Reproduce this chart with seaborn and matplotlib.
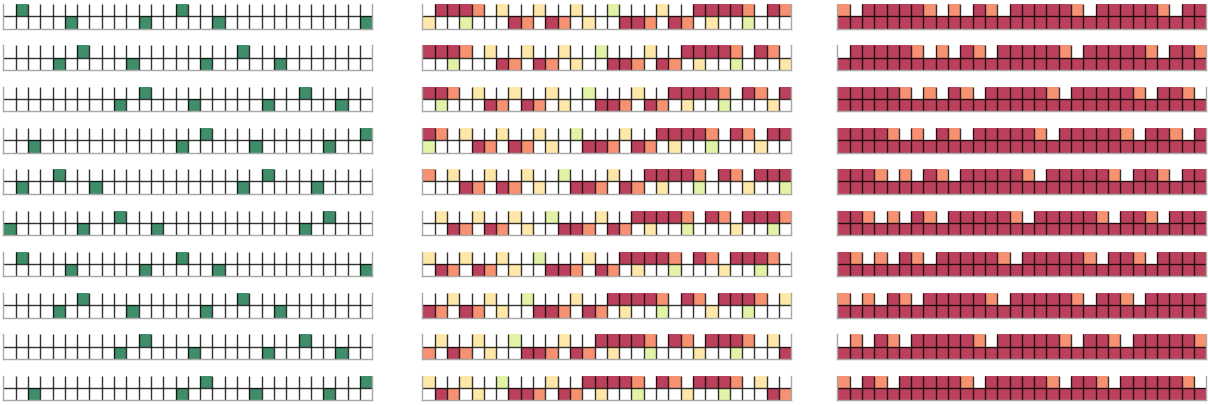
import numpy as np
import matplotlib
matplotlib.use("Agg")
import matplotlib.pyplot as plt
import seaborn as sns

# cell codes -> value on the RdYlGn scale ('.' = empty cell)
code_values = {'.': np.nan, 'R': 0.0, 'O': 0.2, 'Y': 0.4, 'L': 0.6, 'G': 1.0}

# left column: green cells per panel (column indices)
left_top_cols = [[1, 14], [6, 19], [11, 24], [16, 29], [4, 21],
                 [9, 26], [1, 14], [6, 19], [11, 24], [16, 29]]
left_bot_cols = [[5, 11, 17, 29], [4, 10, 16, 22], [9, 15, 21, 27], [2, 14, 20, 26], [1, 7, 19, 25],
                 [0, 6, 12, 24], [5, 11, 17, 29], [4, 10, 16, 22], [9, 15, 21, 27], [2, 14, 20, 26]]

# middle and right columns: long sequences, each panel shows a 30-cell window
mid_top = ".RRRO.Y..Y..Y..L...Y..RRRRO.RO.RRRO.Y.."
mid_bot = "Y..L...RO.RO.Y..RRO.RO.Y..L...Y..L...RO"
right_top = "O.RRRRRO.O.RO.RRRRRO.RRRRRO.RRO.RRRRRO."
right_bot = "RRRRRRRRRRRRRRRRRRRRRRRRRRRRRRRRRRRRRRR"
window_start = [0, 1, 2, 3, 4, 5, 6, 7, 8, 9]

n_cols = 30
n_panels = 10


def decode(s):
    return [code_values[c] for c in s]


def left_grid(i):
    g = np.full((2, n_cols), np.nan)
    g[0, left_top_cols[i]] = code_values['G']
    g[1, left_bot_cols[i]] = code_values['G']
    return g


def window_grid(top, bot, i):
    s = window_start[i]
    return np.array([decode(top[s:s + n_cols]), decode(bot[s:s + n_cols])])


def draw_panel(ax, grid):
    sns.heatmap(grid, ax=ax, cmap='RdYlGn', vmin=0, vmax=1, alpha=0.75,
                linewidths=0, cbar=False, xticklabels=False, yticklabels=False)
    # dark cell separators: all verticals plus the line between the two rows
    ax.vlines(np.arange(1, n_cols), 0, 2, colors='black', lw=1.0, alpha=0.8)
    ax.hlines(1, 0, n_cols, colors='black', lw=1.0, alpha=0.8)
    # light outline on left, right and bottom, none on top
    for side in ['left', 'right', 'bottom']:
        ax.spines[side].set_visible(True)
        ax.spines[side].set_color('#a8a8a8')
        ax.spines[side].set_linewidth(1.0)
    ax.spines['top'].set_visible(False)


W, H = 1208, 406
fig = plt.figure(figsize=(W / 100, H / 100), dpi=100)

col_x = [3.3, 422.3, 837.3]
panel_w = 369
panel_h = 24.6
row_step = 41.3

for i in range(n_panels):
    top = 5 + row_step * i
    grids = [left_grid(i),
             window_grid(mid_top, mid_bot, i),
             window_grid(right_top, right_bot, i)]
    for x, grid in zip(col_x, grids):
        ax = fig.add_axes([x / W, 1 - (top + panel_h) / H, panel_w / W, panel_h / H])
        draw_panel(ax, grid)

fig.savefig("out.png", dpi=100)
